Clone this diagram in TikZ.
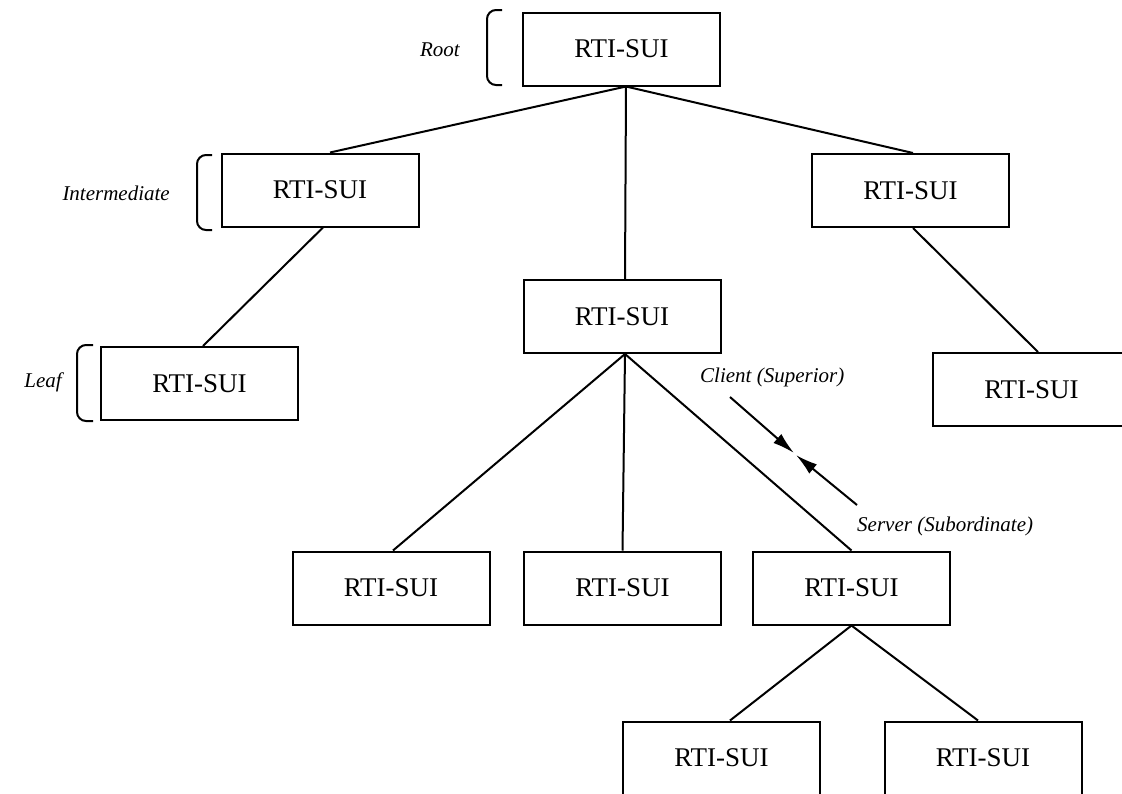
\documentclass[tikz,border=0pt]{standalone}
\usepackage{fontspec}
\setmainfont{Liberation Serif}
\usetikzlibrary{arrows.meta}
\tikzset{
  suibox/.style={draw, line width=2pt, minimum width=197pt, minimum height=73pt, inner sep=0pt,
    font=\fontsize{27}{32}\selectfont},
  lvl/.style={font=\fontsize{21}{25}\selectfont\itshape, inner sep=0pt},
  link/.style={line width=2pt},
  brace/.style={line width=2pt, rounded corners=9pt},
  flow/.style={line width=2pt, -{Latex[length=22pt,width=12pt]}}
}
\begin{document}
\begin{tikzpicture}[x=1pt,y=-1pt]
\useasboundingbox (0,0) rectangle (1122,793);
% boxes
\node[suibox] (root)  at (621.5,49)   {RTI-SUI};
\node[suibox] (inter) at (320,190)    {RTI-SUI};
\node[suibox] (right) at (910.5,190.5){RTI-SUI};
\node[suibox] (mid)   at (622,316.5)  {RTI-SUI};
\node[suibox] (leaf)  at (199.5,383.5){RTI-SUI};
\node[suibox] (far)   at (1031.5,389.5){RTI-SUI};
\node[suibox] (ba)    at (391,588)    {RTI-SUI};
\node[suibox] (bb)    at (622.5,588)  {RTI-SUI};
\node[suibox] (bc)    at (851.5,588)  {RTI-SUI};
\node[suibox] (ca)    at (721.5,758)  {RTI-SUI};
\node[suibox] (cb)    at (983,758)    {RTI-SUI};
% connectors
\draw[link] ([xshift=4.5pt]root.south) -- ([xshift=10pt]inter.north);
\draw[link] ([xshift=4.5pt]root.south) -- ([xshift=3pt]mid.north);
\draw[link] ([xshift=4.5pt]root.south) -- ([xshift=2.5pt]right.north);
\draw[link] ([xshift=3pt]inter.south) -- ([xshift=3.5pt]leaf.north);
\draw[link] ([xshift=2.5pt]right.south) -- ([xshift=6.5pt]far.north);
\draw[link] ([xshift=3pt]mid.south) -- ([xshift=2pt]ba.north);
\draw[link] ([xshift=3pt]mid.south) -- (bb.north);
\draw[link] ([xshift=3pt]mid.south) -- (bc.north);
\draw[link] (bc.south) -- ([xshift=8.5pt]ca.north);
\draw[link] (bc.south) -- ([xshift=-5pt]cb.north);
% level labels and brackets
\node[lvl, anchor=east] (lroot) at (460,50) {Root};
\node[lvl, anchor=east] (linter) at (170,193) {Intermediate};
\node[lvl, anchor=east] (lleaf) at (62,382) {Leaf};
\draw[brace] (502,10) -- (487,10) -- (487,85) -- (502,85);
\draw[brace] (212,155) -- (197,155) -- (197,230) -- (212,230);
\draw[brace] (93,345) -- (77,345) -- (77,421) -- (93,421);
% client / server
\node[lvl, anchor=west] (client) at (700,377) {Client (Superior)};
\node[lvl, anchor=west] (server) at (857,526) {Server (Subordinate)};
\coordinate (cs1) at (730,397);
\coordinate (cs2) at (857,505);
\coordinate (meet1) at (794,453);
\coordinate (meet2) at (796,455);
\draw[flow] (cs1) -- (meet1);
\draw[flow] (cs2) -- (meet2);
\end{tikzpicture}
\end{document}
